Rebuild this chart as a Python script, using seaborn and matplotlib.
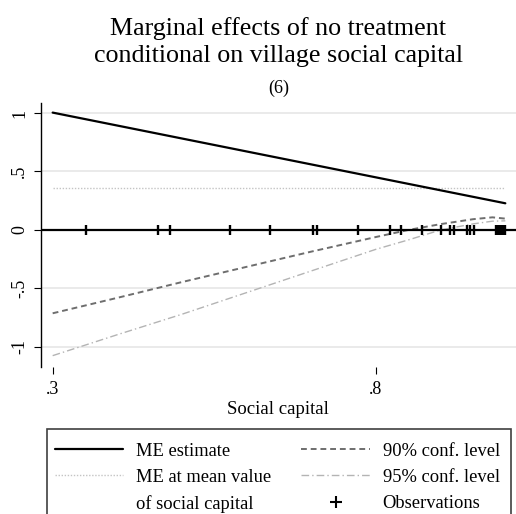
import matplotlib
matplotlib.use("Agg")
import matplotlib.pyplot as plt
from matplotlib.lines import Line2D
from matplotlib.patches import Rectangle
import seaborn as sns
import pandas as pd

# Marginal effect estimate (straight line over the social-capital range)
me_x = [0.30, 1.00]
me_y = [1.003, 0.228]

# Marginal effect at the mean value of social capital
mean_me = 0.356

# Lower confidence bounds
ci_x = [0.30, 0.40, 0.50, 0.60, 0.70, 0.80, 0.85, 0.90, 0.95, 0.98, 1.00]
ci90_lo = [-0.712, -0.58, -0.445, -0.315, -0.185, -0.06, 0.0, 0.05, 0.092, 0.108, 0.097]
ci95_lo = [-1.074, -0.895, -0.72, -0.535, -0.35, -0.165, -0.085, 0.0, 0.052, 0.075, 0.078]

# Observed values of village social capital
obs_x = [0.3515, 0.4633, 0.4814, 0.5742, 0.6360, 0.703, 0.708, 0.7716, 0.8216,
         0.8386, 0.8706, 0.9004, 0.9144, 0.9206, 0.9402, 0.9454, 0.9516,
         0.986, 0.989, 0.992, 0.995, 0.998, 1.000]

xtick_vals = [0.3, 0.8]
xtick_labels = [".3", ".8"]
ytick_vals = [1, 0.5, 0, -0.5, -1]
ytick_labels = ["1", ".5", "0", "-.5", "-1"]

sns.set_style("white")
plt.rcParams["font.family"] = ["Liberation Serif", "DejaVu Serif"]
plt.rcParams.update({"text.color": "black", "axes.labelcolor": "black",
                     "xtick.color": "black", "ytick.color": "black"})

W, H = 516, 514
fig = plt.figure(figsize=(W / 100, H / 100), dpi=100)
ax_left, ax_right, ax_top, ax_bot = 40.7, 516, 103, 367
ax = fig.add_axes([ax_left / W, 1 - ax_bot / H, (ax_right - ax_left) / W, (ax_bot - ax_top) / H])

ax.set_xlim(0.2815, 1.0165)
ax.set_ylim(-1.171, 1.085)

# grid and zero line
ax.set_yticks(ytick_vals)
ax.set_yticklabels(ytick_labels, rotation=90, va="center", fontsize=13)
ax.yaxis.grid(True, color="#e6e6e6", lw=1.2)
ax.xaxis.grid(False)
ax.set_axisbelow(True)

col90 = "#6e6e6e"
col95 = "#b4b4b4"
colmean = "#c4c4c4"
ls90 = (0, (3.0, 2.0))
ls95 = (0, (5.5, 2.2, 1.0, 2.2))
lsmean = (0, (1.0, 1.2))

sns.lineplot(x=[ci_x[0], ci_x[-1]], y=[mean_me, mean_me], ax=ax, color=colmean,
             lw=1.0, linestyle=lsmean, errorbar=None)
sns.lineplot(x=ci_x, y=ci95_lo, ax=ax, color=col95, lw=1.0, linestyle=ls95, errorbar=None)
sns.lineplot(x=ci_x, y=ci90_lo, ax=ax, color=col90, lw=1.4, linestyle=ls90, errorbar=None)
ax.axhline(0, color="black", lw=1.6, zorder=3)
sns.lineplot(x=me_x, y=me_y, ax=ax, color="black", lw=1.6, errorbar=None)

obs_df = pd.DataFrame({"x": obs_x, "y": [0.0] * len(obs_x)})
sns.scatterplot(data=obs_df, x="x", y="y", ax=ax, marker="|", s=50,
                color="black", linewidth=1.7, zorder=4)

ax.set_xticks(xtick_vals)
ax.set_xticklabels(xtick_labels, fontsize=13)
ax.tick_params(axis="x", bottom=True, length=5, width=0.8, pad=5)
ax.tick_params(axis="y", left=True, length=5, width=0.8, pad=4)
ax.set_xlabel("Social capital", fontsize=13.5, labelpad=2.5)
ax.set_ylabel("")

for side in ["top", "right", "bottom"]:
    ax.spines[side].set_visible(False)
ax.spines["left"].set_color("black")
ax.spines["left"].set_linewidth(1.0)

# titles
cx = 278.5 / W
fig.text(cx, 1 - 35 / H, "Marginal effects of no treatment", ha="center", va="baseline", fontsize=18.7)
fig.text(cx, 1 - 62 / H, "conditional on village social capital", ha="center", va="baseline", fontsize=18.7)
fig.text(cx, 1 - 93 / H, "(6)", ha="center", va="baseline", fontsize=13)

# legend box (runs past the lower edge of the figure)
box = Rectangle((47 / W, -0.1), 464 / W, (1 - 429.3 / H) + 0.1,
                transform=fig.transFigure, fill=False, edgecolor="#404040", lw=1.2)
fig.patches.append(box)

handles = [
    Line2D([], [], color="black", lw=1.6),
    Line2D([], [], color=colmean, lw=1.0, linestyle=lsmean),
    Line2D([], [], linestyle="none"),
    Line2D([], [], color=col90, lw=1.4, linestyle=ls90),
    Line2D([], [], color=col95, lw=1.0, linestyle=ls95),
    Line2D([], [], linestyle="none", marker="+", color="black", ms=8, mew=1.5),
]
labels = ["ME estimate", "ME at mean value", "of social capital",
          "90% conf. level", "95% conf. level", "Observations"]
leg = fig.legend(handles, labels, ncol=2, loc="upper left",
                 bbox_to_anchor=(55 / W, 1 - 442.5 / H), borderaxespad=0,
                 fontsize=13.3, handlelength=3.7, handletextpad=0.7,
                 columnspacing=1.62, labelspacing=0.5, borderpad=0,
                 frameon=False)

fig.savefig("out.png", dpi=100)
